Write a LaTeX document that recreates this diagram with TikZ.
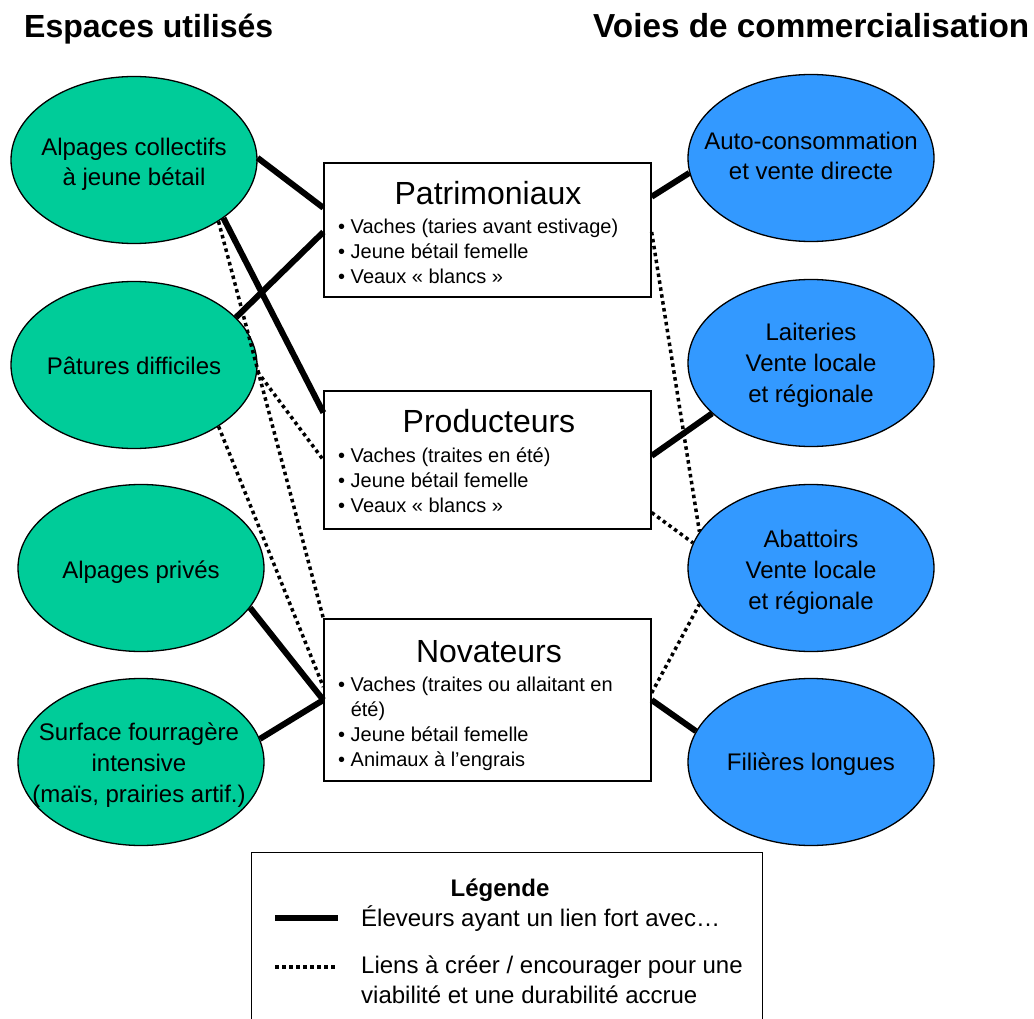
\documentclass[tikz,border=0pt]{standalone}
\usepackage{fontspec}
\setmainfont{Liberation Sans}
\usetikzlibrary{shapes.geometric,calc}
\definecolor{espgreen}{RGB}{0,204,153}
\definecolor{voieblue}{RGB}{51,153,255}
\begin{document}
\begin{tikzpicture}[x=1pt,y=-1pt,
  espace/.style={ellipse,draw,line width=1.3pt,fill=espgreen,minimum width=246pt,minimum height=167pt,inner sep=0pt},
  voie/.style={espace,fill=voieblue},
  etext/.style={align=center,inner sep=0pt,font=\fontsize{24}{30}\selectfont},
  etextb/.style={etext,font=\fontsize{24}{31}\selectfont},
  profil/.style={rectangle,draw,line width=1.3pt,fill=white,minimum width=327pt,inner sep=0pt},
  ptitle/.style={anchor=base,inner sep=0pt,font=\fontsize{32}{36}\selectfont},
  plist/.style={anchor=north west,align=left,inner sep=0pt,font=\fontsize{20}{25}\selectfont},
  strongline/.style={line width=6pt},
  weakline/.style={line width=3.5pt,dash pattern=on 3.5pt off 3.5pt},
  coltitle/.style={anchor=base west,inner sep=0pt,font=\fontsize{32}{36}\selectfont\bfseries},
  legtext/.style={anchor=base west,inner sep=0pt,font=\fontsize{24}{30}\selectfont}
]
\useasboundingbox (0,0) rectangle (1034,1019);

% column titles
\node[coltitle] (tleft) at (24,38) {Espaces utilisés};
\node[coltitle,font=\fontsize{33.3}{36}\selectfont\bfseries] (tright) at (593,38) {Voies de commercialisation};

% left ellipses
\node[espace] (ac) at (134,160) {};
\node[espace] (pd) at (134,365) {};
\node[espace] (ap) at (141,568) {};
\node[espace] (sf) at (141,762) {};

% right ellipses
\node[voie] (acv) at (811,158) {};
\node[voie] (lai) at (811,363) {};
\node[voie] (aba) at (811,568) {};
\node[voie] (fil) at (811,762) {};

% profile boxes
\node[profil,minimum height=134pt] (pat) at (487.5,230) {};
\node[profil,minimum height=138pt] (prod) at (487.5,460) {};
\node[profil,minimum height=162pt] (nov) at (487.5,700) {};

% connectors: left side
\draw[strongline] (ac.1) -- ($(pat.north west)!0.336!(pat.south west)$);
\draw[strongline] (ac.-33) -- ($(prod.north west)!0.16!(prod.south west)$);
\draw[weakline] (ac.-36) -- (nov.north west);
\draw[strongline] (pd.25) -- ($(pat.north west)!0.515!(pat.south west)$);
\draw[weakline] (pd.-3) -- (prod.west);
\draw[weakline] (pd.-36) -- ($(nov.north west)!0.42!(nov.south west)$);
\draw[strongline] (ap.-20) -- (nov.west);
\draw[strongline] (sf.11) -- (nov.west);

% connectors: right side
\draw[strongline] ($(pat.north east)!0.254!(pat.south east)$) -- (acv.187);
\draw[weakline] ($(pat.north east)!0.515!(pat.south east)$) -- (aba.162);
\draw[strongline] ($(prod.north east)!0.47!(prod.south east)$) -- (lai.207);
\draw[weakline] ($(prod.north east)!0.877!(prod.south east)$) -- (aba.168);
\draw[weakline] ($(nov.north east)!0.457!(nov.south east)$) -- (aba.198);
\draw[strongline] (nov.east) -- (fil.165);

% ellipse texts
\node[etext] (act) at (134,164) {Alpages collectifs\\à jeune bétail};
\node[etext] (pdt) at (134,366) {Pâtures difficiles};
\node[etext] (apt) at (141,572) {Alpages privés};
\node[etextb] (sft) at (139,765) {Surface fourragère\\intensive\\(maïs, prairies artif.)};
\node[etext] (acvt) at (811,156) {Auto-consommation\\et vente directe};
\node[etextb] (lait) at (811,365) {Laiteries\\Vente locale\\et régionale};
\node[etextb] (abat) at (811,572) {Abattoirs\\Vente locale\\et régionale};
\node[etext] (filt) at (811,764) {Filières longues};

% box texts
\node[ptitle] (patt) at (488,205) {Patrimoniaux};
\node[plist] (patl) at (338,218.4) {• Vaches (taries avant estivage)\\• Jeune bétail femelle\\• Veaux « blancs »};
\node[ptitle] (prodt) at (489,432) {Producteurs};
\node[plist] (prodl) at (338,447.4) {• Vaches (traites en été)\\• Jeune bétail femelle\\• Veaux « blancs »};
\node[ptitle] (novt) at (489,662) {Novateurs};
\node[plist] (novl) at (338,676.4) {• Vaches (traites ou allaitant en\\\hphantom{• }été)\\• Jeune bétail femelle\\• Animaux à l’engrais};

% legend
\node[draw,line width=1.3pt,rectangle,anchor=north west,minimum width=511pt,minimum height=190pt,inner sep=0pt] (leg) at (251,852) {};
\node[anchor=base,inner sep=0pt,font=\fontsize{24}{30}\selectfont\bfseries] (legt) at (500,896) {Légende};
\coordinate (ls1) at (275,918);
\coordinate (ls2) at (338,918);
\coordinate (lw1) at (275,967);
\coordinate (lw2) at (338,967);
\draw[strongline] (ls1) -- (ls2);
\draw[weakline] (lw1) -- (lw2);
\node[legtext] (leg1) at (361,926) {Éleveurs ayant un lien fort avec…};
\node[legtext] (leg2) at (361,973) {Liens à créer / encourager pour une};
\node[legtext] (leg3) at (361,1003) {viabilité et une durabilité accrue};
\end{tikzpicture}
\end{document}
